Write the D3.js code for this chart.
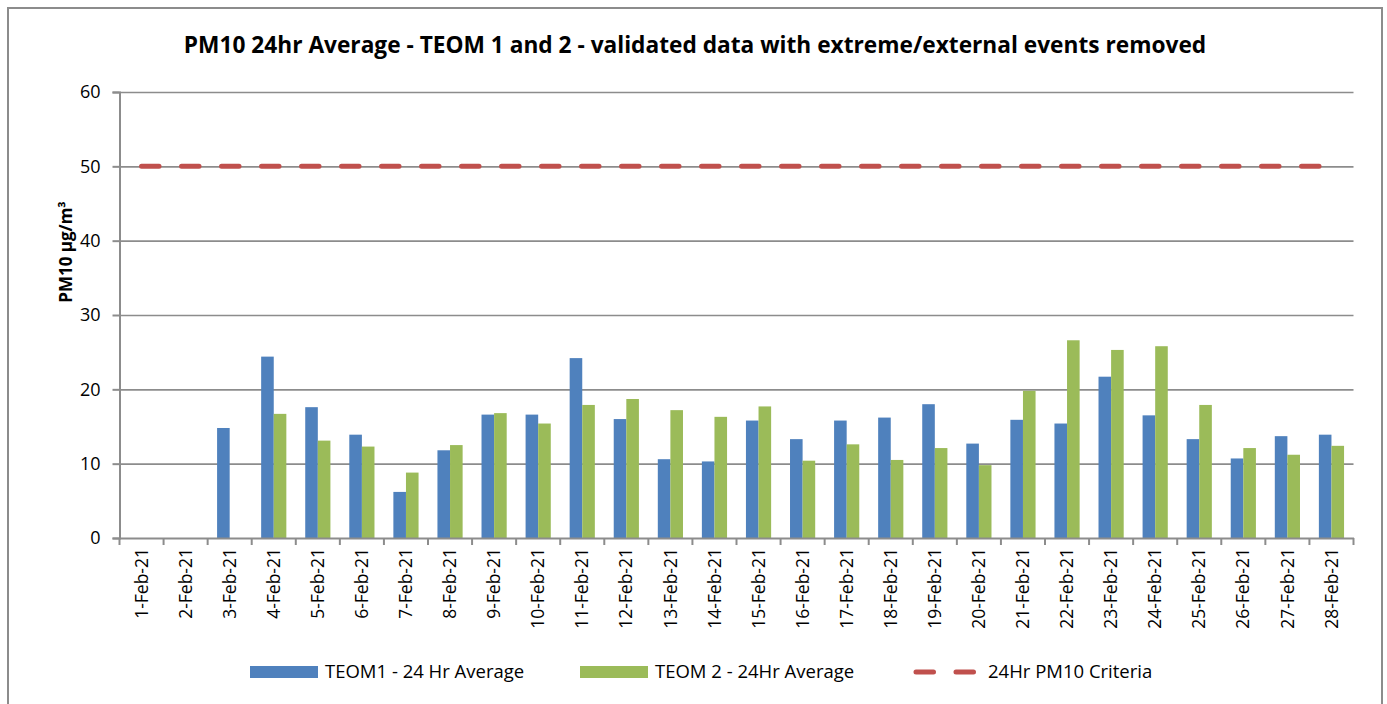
<!DOCTYPE html>
<html>
<head>
<meta charset="utf-8">
<script src="https://cdn.jsdelivr.net/npm/d3@7"></script>
<style>
  body { margin: 0; background: #fff; }
  svg { font-family: "Open Sans", sans-serif; }
</style>
</head>
<body>
<svg id="graph" width="1387" height="704"></svg>
<script>
// datos
var fechas = ["1-Feb-21", "2-Feb-21", "3-Feb-21", "4-Feb-21", "5-Feb-21", "6-Feb-21", "7-Feb-21",
    "8-Feb-21", "9-Feb-21", "10-Feb-21", "11-Feb-21", "12-Feb-21", "13-Feb-21", "14-Feb-21",
    "15-Feb-21", "16-Feb-21", "17-Feb-21", "18-Feb-21", "19-Feb-21", "20-Feb-21", "21-Feb-21",
    "22-Feb-21", "23-Feb-21", "24-Feb-21", "25-Feb-21", "26-Feb-21", "27-Feb-21", "28-Feb-21"];
var teom1 = [null, null, 14.8, 24.4, 17.6, 13.9, 6.2, 11.8, 16.6, 16.6, 24.2, 16.0, 10.6, 10.3,
    15.8, 13.3, 15.8, 16.2, 18.0, 12.7, 15.9, 15.4, 21.7, 16.5, 13.3, 10.7, 13.7, 13.9];
var teom2 = [null, null, null, 16.7, 13.1, 12.3, 8.8, 12.5, 16.8, 15.4, 17.9, 18.7, 17.2, 16.3,
    17.7, 10.4, 12.6, 10.5, 12.1, 9.8, 19.8, 26.6, 25.3, 25.8, 17.9, 12.1, 11.2, 12.4];
var criterio = 50;
var yTicks = [0, 10, 20, 30, 40, 50, 60];
var series = ["TEOM1 - 24 Hr Average", "TEOM 2 - 24Hr Average", "24Hr PM10 Criteria"];
var colores = ["#4F81BD", "#9BBB59", "#C0504D"];

var svg = d3.select("#graph");
var margin = { top: 92, left: 119.5, right: 33.5, bottom: 166 };
var width = 1387 - margin.left - margin.right;
var height = 704 - margin.top - margin.bottom;

// marco exterior
svg.append("rect")
    .attr("x", 8).attr("y", 8)
    .attr("width", 1374).attr("height", 710)
    .attr("fill", "none").attr("stroke", "#8c8c8c").attr("stroke-width", 2);

svg.append("text")
    .attr("x", 695).attr("y", 53)
    .attr("text-anchor", "middle")
    .style("font-size", "22.7px").style("font-weight", "bold")
    .text("PM10 24hr Average - TEOM 1 and 2 - validated data with extreme/external events removed");

var g = svg.append("g").attr("transform", "translate(" + margin.left + "," + margin.top + ")");

var x = d3.scaleBand().domain(fechas).range([0, width])
    .paddingInner(1.5 / 3.5).paddingOuter(0.75 / 3.5);
var x1 = d3.scaleBand().domain([0, 1]).range([0, x.bandwidth()]);
var y = d3.scaleLinear().domain([0, 60]).range([height, 0]);

// lineas de cuadricula
g.append("g").attr("class", "grid")
    .call(d3.axisLeft(y).tickValues(yTicks.slice(1)).tickSize(-width).tickFormat(""))
    .call(s => s.select(".domain").remove())
    .selectAll("line").attr("stroke", "#8c8c8c").attr("stroke-width", 1.6);

// barras
var grupos = g.append("g").selectAll("g")
    .data(fechas)
    .enter().append("g")
    .attr("transform", d => "translate(" + x(d) + ",0)");

grupos.selectAll("rect")
    .data((d, i) => [teom1[i], teom2[i]].map((v, k) => ({ v: v, k: k })).filter(e => e.v != null))
    .enter().append("rect")
    .attr("x", e => x1(e.k))
    .attr("width", x1.bandwidth())
    .attr("y", e => y(e.v))
    .attr("height", e => height - y(e.v))
    .attr("fill", e => colores[e.k]);

// eje y
var yaxis = g.append("g")
    .call(d3.axisLeft(y).tickValues(yTicks).tickSize(7).tickPadding(12));
yaxis.select(".domain").attr("stroke", "#8c8c8c").attr("stroke-width", 2);
yaxis.selectAll("line").attr("stroke", "#8c8c8c").attr("stroke-width", 2);
yaxis.selectAll("text").style("font-size", "18px").attr("fill", "#000").attr("font-family", "Open Sans");

// eje x
var xaxis = g.append("g").attr("transform", "translate(0," + height + ")")
    .call(d3.axisBottom(x).tickSize(0).tickPadding(10));
xaxis.select(".domain").attr("stroke", "#8c8c8c").attr("stroke-width", 2);
xaxis.selectAll("text")
    .style("font-size", "17.5px").attr("fill", "#000").attr("font-family", "Open Sans")
    .attr("text-anchor", "end")
    .attr("transform", "rotate(-90)")
    .attr("x", -10).attr("y", 0).attr("dy", "0.35em");

// marcas entre categorias
g.append("g").selectAll("line")
    .data(d3.range(fechas.length + 1))
    .enter().append("line")
    .attr("x1", i => i * x.step()).attr("x2", i => i * x.step())
    .attr("y1", height).attr("y2", height + 7)
    .attr("stroke", "#8c8c8c").attr("stroke-width", 2);

// linea del criterio
var linea = d3.line()
    .x(d => x(d) + x.bandwidth() / 2)
    .y(() => y(criterio));
g.append("path")
    .datum(fechas)
    .attr("d", linea)
    .attr("fill", "none")
    .attr("stroke", colores[2])
    .attr("stroke-width", 5)
    .attr("stroke-linecap", "round")
    .attr("stroke-dasharray", "17.5,22.5");

// etiqueta eje y
svg.append("text")
    .attr("transform", "translate(72,252) rotate(-90)")
    .attr("text-anchor", "middle")
    .style("font-size", "17px").style("font-weight", "bold")
    .text("PM10 µg/m³");

// leyenda
var ly = 672;
var ley = svg.append("g");
ley.append("rect").attr("x", 250).attr("y", ly - 6).attr("width", 68).attr("height", 12).attr("fill", colores[0]);
ley.append("text").attr("x", 325).attr("y", ly).attr("dy", "0.35em").style("font-size", "18.5px").text(series[0]);
ley.append("rect").attr("x", 580).attr("y", ly - 6).attr("width", 68).attr("height", 12).attr("fill", colores[1]);
ley.append("text").attr("x", 655).attr("y", ly).attr("dy", "0.35em").style("font-size", "18.5px").text(series[1]);
ley.append("line").attr("x1", 916).attr("x2", 978).attr("y1", ly).attr("y2", ly)
    .attr("stroke", colores[2]).attr("stroke-width", 5).attr("stroke-linecap", "round")
    .attr("stroke-dasharray", "17.5,22.5");
ley.append("text").attr("x", 988).attr("y", ly).attr("dy", "0.35em").style("font-size", "18.5px").text(series[2]);
</script>
</body>
</html>
